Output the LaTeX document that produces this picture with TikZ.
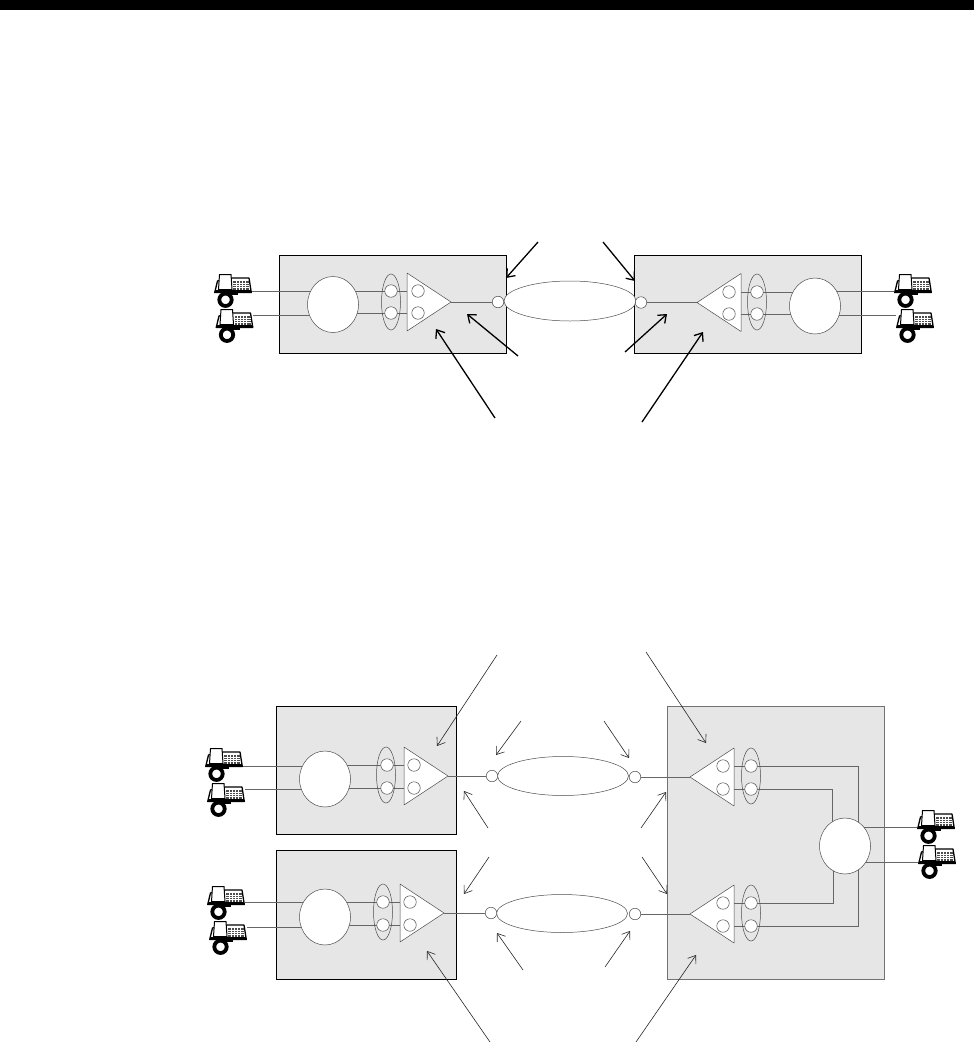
\documentclass[tikz,border=0pt]{standalone}
\usetikzlibrary{shapes.geometric,arrows.meta,calc}
\pgfdeclarelayer{panels}
\pgfdeclarelayer{wires}
\pgfsetlayers{panels,wires,main}
\definecolor{panelgray}{HTML}{E6E6E6}
\definecolor{wiregray}{HTML}{666666}
\tikzset{
  panel/.style={draw=black,line width=0.9pt,fill=panelgray},
  graypanel/.style={draw=black!55,line width=0.9pt,fill=panelgray},
  wire/.style={draw=wiregray,line width=0.75pt},
  outl/.style={draw=black!70,line width=0.5pt},
  bigcirc/.style={outl,fill=white,ellipse,minimum width=51pt,minimum height=56pt,inner sep=0pt,outer sep=0pt},
  smallc/.style={outl,fill=white,circle,minimum size=12.5pt,inner sep=0pt,outer sep=0pt},
  portc/.style={outl,fill=white,circle,minimum size=11.5pt,inner sep=0pt,outer sep=0pt},
  bundle/.style={outl,ellipse,minimum width=19pt,minimum height=56pt,inner sep=0pt,outer sep=0pt},
  cloud/.style={outl,fill=white,ellipse,minimum width=131pt,minimum height=39pt,inner sep=0pt,outer sep=0pt},
  tri/.style={outl,fill=white,isosceles triangle,isosceles triangle stretches,minimum width=58pt,minimum height=44pt,inner sep=0pt,outer sep=0pt,anchor=apex,line join=bevel},
  trir/.style={tri,shape border rotate=0},
  tril/.style={tri,shape border rotate=180},
  boldarrow/.style={draw=black,line width=1.3pt,-{Straight Barb[length=7pt,width=11pt]}},
  thinarrow/.style={draw=black!85,line width=0.6pt,-{Straight Barb[length=7pt,width=10pt]}},
  phone/.pic={
    \draw[black,line width=1.3pt,line join=round,fill=white] (0.7,18.5) -- (3.5,7) -- (17,4) -- (35,4) -- (37.3,18.5) -- cycle;
    \fill[black!70] (19,7) rectangle (35,15.5);
    \foreach \yy in {9,11,13} {\draw[white,line width=0.4pt] (19,\yy) -- (35,\yy);}
    \foreach \xx in {22,25,28,31} {\draw[white,line width=0.35pt] (\xx,7) -- (\xx,15.5);}
    \draw[black,line width=1pt,fill=white] (4.5,15.5) -- (5.5,0.5) -- (17,0.5) -- (18,15.5) -- cycle;
    \draw[black,line width=1.4pt] (1,16.8) -- (37,16.8);
    \draw[black,line width=3.8pt] (11.5,25.8) circle[radius=6.2];
    \draw[black,line width=2.2pt] (14,19.8) -- (24,19.8);
  }
}
\begin{document}
\begin{tikzpicture}[x=1pt,y=-1pt]
\useasboundingbox (0,0) rectangle (974,1060);
\fill[black] (0,0) rectangle (974,10);

% ---- upper figure
\begin{pgfonlayer}{panels}
\node[panel,minimum width=227pt,minimum height=98pt,inner sep=0pt,outer sep=0pt] (pA) at (392.5,304) {};
\node[panel,minimum width=227pt,minimum height=98pt,inner sep=0pt,outer sep=0pt] (pB) at (747.5,304) {};
\end{pgfonlayer}
\node[cloud,minimum height=40pt,minimum width=132pt] (cl1) at (570,301) {};
\node[bigcirc] (bA) at (333,304.5) {};
\node[bigcirc] (bB) at (815,306) {};
\node[bundle] (eA) at (391,302) {};
\node[bundle] (eB) at (757,302) {};
\node[trir] (tA) at (451,302) {};
\node[tril] (tB) at (697,302.5) {};
\foreach \n/\x/\y in {sA1/391/291,sA2/391/313,iA1/418/291,iA2/418/313,sB1/757/292,sB2/757/314,iB1/729/292,iB2/729/314}
  \node[smallc] (\n) at (\x,\y) {};
\node[portc] (pa) at (498,302) {};
\node[portc] (pb) at (641,302.5) {};
\pic at (214,274) {phone};
\pic at (215.5,309) {phone};
\pic at (894,274) {phone};
\pic at (896,309) {phone};
\coordinate (lA1) at (252,291);
\coordinate (lA2) at (253,315);
\coordinate (lB1) at (894,291);
\coordinate (lB2) at (896,315);
\begin{pgfonlayer}{wires}
\draw[wire] (lA1) -- (bA.center |- lA1);
\draw[wire] (lA2) -- (bA.center |- lA2);
\draw[wire] (lB1) -- (bB.center |- lB1);
\draw[wire] (lB2) -- (bB.center |- lB2);
\draw[wire] (bA.center |- sA1) -- (sA1) -- (iA1);
\draw[wire] (bA.center |- sA2) -- (sA2) -- (iA2);
\draw[wire] (bB.center |- sB1) -- (sB1) -- (iB1);
\draw[wire] (bB.center |- sB2) -- (sB2) -- (iB2);
\draw[wire] (tA.apex) -- (pa);
\draw[wire] (tB.apex) -- (pb);
\end{pgfonlayer}
\foreach \n/\xa/\ya/\xb/\yb in {1/538/242/506/278,2/603/242/635/281,3/518/356/467/314,4/625/352/667/314,5/495/418/436/329,6/642/422/703/332}{
  \coordinate (ua\n) at (\xa,\ya);
  \coordinate (ub\n) at (\xb,\yb);
  \draw[boldarrow] (ua\n) -- (ub\n);
}

% ---- lower figure
\begin{pgfonlayer}{panels}
\node[panel,minimum width=180pt,minimum height=128pt,inner sep=0pt,outer sep=0pt] (pC) at (366,770) {};
\node[panel,minimum width=180pt,minimum height=129pt,inner sep=0pt,outer sep=0pt] (pD) at (366,914.5) {};
\node[graypanel,minimum width=217pt,minimum height=273pt,inner sep=0pt,outer sep=0pt] (pE) at (775.5,842.5) {};
\end{pgfonlayer}
\node[cloud] (cl2) at (563,776) {};
\node[cloud,minimum height=38pt] (cl3) at (562,913.5) {};
\node[bigcirc] (bC) at (325,779) {};
\node[bigcirc] (bD) at (325,917) {};
\node[bigcirc] (bE) at (845,846) {};
\node[bundle] (eC) at (386,775) {};
\node[bundle] (eD) at (383,912) {};
\node[bundle] (eE) at (751,776) {};
\node[bundle] (eF) at (751,913) {};
\node[trir] (tC) at (448,776) {};
\node[trir] (tD) at (444,913) {};
\node[tril] (tE) at (690,777) {};
\node[tril] (tF) at (690,914) {};
\foreach \n/\x/\y in {sC1/387/765,sC2/387/788,iC1/414/765,iC2/414/788,sD1/383/902,sD2/383/925,iD1/410/902,iD2/410/925,sE1/751/766,sE2/751/789,iE1/723/766,iE2/723/789,sF1/751/903,sF2/751/926,iF1/723/903,iF2/723/926}
  \node[smallc] (\n) at (\x,\y) {};
\node[portc] (pc) at (492,776) {};
\node[portc] (pd) at (491,913) {};
\node[portc] (pe) at (635,777) {};
\node[portc] (pf) at (635,914) {};
\pic at (205,748) {phone};
\pic at (207,783) {phone};
\pic at (207,886) {phone};
\pic at (209,921) {phone};
\pic at (917,810) {phone};
\pic at (918,845) {phone};
\coordinate (lC1) at (243,766);
\coordinate (lC2) at (245,789);
\coordinate (lD1) at (245,902);
\coordinate (lD2) at (247,927);
\coordinate (lE1) at (917,827);
\coordinate (lE2) at (918,862);
\coordinate (r1) at (858,766);
\coordinate (r2) at (858,926);
\coordinate (r3) at (832,846);
\coordinate (r4) at (833,846);
\begin{pgfonlayer}{wires}
\draw[wire] (lC1) -- (bC.center |- lC1);
\draw[wire] (lC2) -- (bC.center |- lC2);
\draw[wire] (lD1) -- (bD.center |- lD1);
\draw[wire] (lD2) -- (bD.center |- lD2);
\draw[wire] (lE1) -- (bE.center |- lE1);
\draw[wire] (lE2) -- (bE.center |- lE2);
\draw[wire] (bC.center |- sC1) -- (sC1) -- (iC1);
\draw[wire] (bC.center |- sC2) -- (sC2) -- (iC2);
\draw[wire] (bD.center |- sD1) -- (sD1) -- (iD1);
\draw[wire] (bD.center |- sD2) -- (sD2) -- (iD2);
\draw[wire] (iE1) -- (sE1) -- (r1) -- (r2) -- (sF2) -- (iF2);
\draw[wire] (iE2) -- (sE2) -| (r3);
\draw[wire] (iF1) -- (sF1) -| (r4);
\draw[wire] (tC.apex) -- (pc);
\draw[wire] (tD.apex) -- (pd);
\draw[wire] (tE.apex) -- (pe);
\draw[wire] (tF.apex) -- (pf);
\end{pgfonlayer}
\foreach \n/\xa/\ya/\xb/\yb in {1/497/655/437/746,2/646/652/706/743,3/521/721/496/755,4/604/721/629/758,5/488/828/464/791,6/641/828/666/792,7/489/857/464/894,8/642/857/667/894,9/523/970/497/933,10/605/967/630/931,11/490/1042/427/951,12/636/1042/696/955}{
  \coordinate (va\n) at (\xa,\ya);
  \coordinate (vb\n) at (\xb,\yb);
  \draw[thinarrow] (va\n) -- (vb\n);
}
\end{tikzpicture}
\end{document}
